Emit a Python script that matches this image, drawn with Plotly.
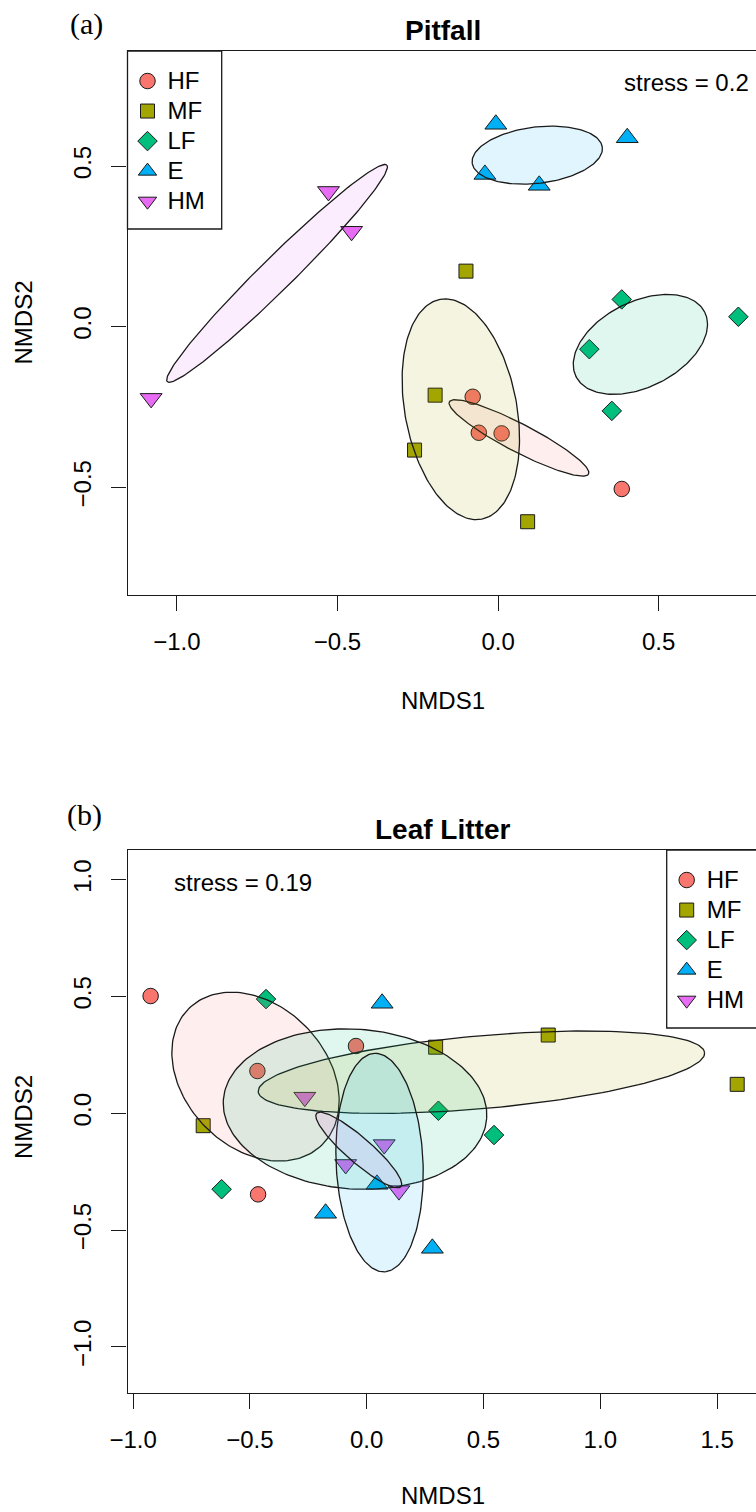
import numpy as np
import plotly.graph_objects as go

W, H = 756, 1512

groups = ["HF", "MF", "LF", "E", "HM"]
group_colors = ["#F8766D", "#A3A500", "#00BF7D", "#00B0F6", "#E76BF3"]
group_symbols = ["circle", "square", "diamond", "triangle-up", "triangle-down"]
group_sizes = [15.5, 14, 15, 19, 19]

# ---------------- Panel (a): Pitfall ----------------
pit_HF_x = [-0.079, -0.060, 0.011, 0.385]
pit_HF_y = [-0.218, -0.330, -0.332, -0.505]
pit_MF_x = [-0.100, -0.196, -0.260, 0.092]
pit_MF_y = [0.173, -0.213, -0.384, -0.607]
pit_LF_x = [0.385, 0.284, 0.748, 0.354]
pit_LF_y = [0.085, -0.070, 0.031, -0.262]
pit_E_x = [-0.007, 0.402, -0.041, 0.128]
pit_E_y = [0.630, 0.588, 0.474, 0.440]
pit_HM_x = [-0.528, -0.456, -1.080]
pit_HM_y = [0.421, 0.297, -0.223]

# ellipse parameters per group (HF, MF, LF, E, HM): centre, semi-axes, angle (deg)
pit_ell_cx = [0.065, -0.116, 0.443, 0.122, -0.688]
pit_ell_cy = [-0.346, -0.257, -0.055, 0.534, 0.166]
pit_ell_a = [0.244, 0.348, 0.224, 0.204, 0.480]
pit_ell_b = [0.044, 0.174, 0.133, 0.0875, 0.051]
pit_ell_ang = [-27.4, 100.7, 26.6, 6.9, 44.6]

pit_xticks = [-1.0, -0.5, 0.0, 0.5]
pit_xticklabels = ["\u22121.0", "\u22120.5", "0.0", "0.5"]
pit_yticks = [-0.5, 0.0, 0.5]
pit_yticklabels = ["\u22120.5", "0.0", "0.5"]
pit_stress = "stress = 0.2"

# ---------------- Panel (b): Leaf Litter ----------------
lit_HF_x = [-0.925, -0.468, -0.046, -0.465]
lit_HF_y = [0.502, 0.181, 0.288, -0.347]
lit_MF_x = [-0.700, 0.295, 0.777, 1.586]
lit_MF_y = [-0.053, 0.283, 0.335, 0.124]
lit_LF_x = [-0.431, 0.307, 0.545, -0.621]
lit_LF_y = [0.489, 0.011, -0.093, -0.325]
lit_E_x = [0.066, 0.044, -0.176, 0.281]
lit_E_y = [0.471, -0.304, -0.428, -0.578]
lit_HM_x = [-0.265, 0.075, -0.090, 0.138]
lit_HM_y = [0.069, -0.134, -0.219, -0.331]

lit_ell_cx = [-0.476, 0.491, -0.050, 0.055, -0.034]
lit_ell_cy = [0.157, 0.176, 0.018, -0.211, -0.157]
lit_ell_a = [0.408, 0.959, 0.565, 0.468, 0.239]
lit_ell_b = [0.304, 0.156, 0.342, 0.186, 0.054]
lit_ell_ang = [-45.9, 5.0, -4.0, 92.6, -41.0]

lit_xticks = [-1.0, -0.5, 0.0, 0.5, 1.0, 1.5]
lit_xticklabels = ["\u22121.0", "\u22120.5", "0.0", "0.5", "1.0", "1.5"]
lit_yticks = [-1.0, -0.5, 0.0, 0.5, 1.0]
lit_yticklabels = ["\u22121.0", "\u22120.5", "0.0", "0.5", "1.0"]
lit_stress = "stress = 0.19"

pit_points = [(pit_HF_x, pit_HF_y), (pit_MF_x, pit_MF_y), (pit_LF_x, pit_LF_y),
              (pit_E_x, pit_E_y), (pit_HM_x, pit_HM_y)]
lit_points = [(lit_HF_x, lit_HF_y), (lit_MF_x, lit_MF_y), (lit_LF_x, lit_LF_y),
              (lit_E_x, lit_E_y), (lit_HM_x, lit_HM_y)]


def rgba(hexc, a):
    h = hexc.lstrip("#")
    r, g, b = int(h[0:2], 16), int(h[2:4], 16), int(h[4:6], 16)
    return f"rgba({r},{g},{b},{a})"


def ellipse_xy(cx, cy, a, b, ang):
    t = np.linspace(0, 2 * np.pi, 181)
    th = np.deg2rad(ang)
    x = cx + a * np.cos(t) * np.cos(th) - b * np.sin(t) * np.sin(th)
    y = cy + a * np.cos(t) * np.sin(th) + b * np.sin(t) * np.cos(th)
    return x, y


fig = go.Figure()

panels = [
    dict(points=pit_points, cx=pit_ell_cx, cy=pit_ell_cy, a=pit_ell_a, b=pit_ell_b,
         ang=pit_ell_ang, xa="x", ya="y", legend="legend"),
    dict(points=lit_points, cx=lit_ell_cx, cy=lit_ell_cy, a=lit_ell_a, b=lit_ell_b,
         ang=lit_ell_ang, xa="x2", ya="y2", legend="legend2"),
]

for p in panels:
    for i, g in enumerate(groups):
        xs, ys = p["points"][i]
        fig.add_trace(go.Scatter(
            x=xs, y=ys, mode="markers",
            name=f"<span style='font-size:24px'>{g}</span>", legend=p["legend"],
            xaxis=p["xa"], yaxis=p["ya"],
            marker=dict(symbol=group_symbols[i], size=group_sizes[i], color=group_colors[i],
                        line=dict(color="#1a1a1a", width=1)),
            hoverinfo="skip"))
    for i, g in enumerate(groups):
        ex, ey = ellipse_xy(p["cx"][i], p["cy"][i], p["a"][i], p["b"][i], p["ang"][i])
        fig.add_trace(go.Scatter(
            x=ex, y=ey, mode="lines", fill="toself", fillcolor=rgba(group_colors[i], 0.12),
            line=dict(color="#1a1a1a", width=1.3), showlegend=False,
            xaxis=p["xa"], yaxis=p["ya"], hoverinfo="skip"))


def px(x):
    return x / W


def py(y):
    return 1 - y / H


axis_common = dict(showgrid=False, zeroline=False, showline=True, linecolor="#1a1a1a",
                   linewidth=1.3, ticks="outside", ticklen=15, tickwidth=1.3,
                   tickcolor="#1a1a1a", tickfont=dict(size=24, color="black"),
                   automargin=False)

legend_common = dict(xanchor="left", yanchor="top", borderwidth=0,
                     bgcolor="rgba(0,0,0,0)", font=dict(size=20.8), itemsizing="trace")

fig.update_layout(
    width=W, height=H, margin=dict(l=0, r=0, t=0, b=0, autoexpand=False),
    paper_bgcolor="white", plot_bgcolor="white",
    font=dict(family="Liberation Sans, Arial, sans-serif", color="black", size=24),
    xaxis=dict(domain=[px(127.5), 1], range=[-1.1536, 0.8029], tickvals=pit_xticks,
               ticktext=pit_xticklabels, anchor="y", mirror=True, ticklabelstandoff=10,
               **axis_common),
    yaxis=dict(domain=[py(595), py(51)], range=[-0.8350, 0.8581], tickvals=pit_yticks,
               ticktext=pit_yticklabels, tickangle=-90, anchor="x", ticklabelstandoff=11,
               **axis_common),
    xaxis2=dict(domain=[px(127.5), 1], range=[-1.024, 1.6665], tickvals=lit_xticks,
                ticktext=lit_xticklabels, anchor="y2", mirror=True, ticklabelstandoff=10,
                **axis_common),
    yaxis2=dict(domain=[py(1393.3), py(850)], range=[-1.1986, 1.1271], tickvals=lit_yticks,
                ticktext=lit_yticklabels, tickangle=-90, anchor="x2", ticklabelstandoff=11,
                **axis_common),
    legend=dict(x=px(127.5), y=py(61), **legend_common),
    legend2=dict(x=px(666.7), y=py(860), **legend_common),
    shapes=[
        dict(type="rect", xref="paper", yref="paper", x0=px(127.5), x1=px(221.7),
             y0=py(229), y1=py(51), line=dict(color="#1a1a1a", width=1.3),
             fillcolor="white", layer="below"),
        dict(type="rect", xref="paper", yref="paper", x0=px(666.7), x1=px(770),
             y0=py(1028), y1=py(850), line=dict(color="#1a1a1a", width=1.3),
             fillcolor="white", layer="below"),
    ],
)

ann = []


def add_text(text, x, y, size=24, xanchor="center", angle=0, family=None, bold=False):
    f = dict(size=size, color="black")
    if family:
        f["family"] = family
    ann.append(dict(text=(f"<b>{text}</b>" if bold else text), x=px(x), y=py(y),
                    xref="paper", yref="paper", xanchor=xanchor, yanchor="middle",
                    showarrow=False, textangle=angle, font=f))


add_text("(a)", 86.5, 24, size=30, family="Liberation Serif, Times New Roman, serif")
add_text("Pitfall", 443, 30.5, size=28, bold=True)
add_text(pit_stress, 751, 83, xanchor="right")
add_text("NMDS1", 443, 700)
add_text("NMDS2", 23, 322.5, angle=-90)

add_text("(b)", 84, 815, size=30, family="Liberation Serif, Times New Roman, serif")
add_text("Leaf Litter", 443, 829, size=28, bold=True)
add_text(lit_stress, 171.7, 882, xanchor="left")
add_text("NMDS1", 443, 1495)
add_text("NMDS2", 23, 1117, angle=-90)

fig.update_layout(annotations=ann)

fig.write_html("out.html", config={"displayModeBar": False},
               post_script="document.body.style.margin='0';document.body.style.overflow='hidden';")
